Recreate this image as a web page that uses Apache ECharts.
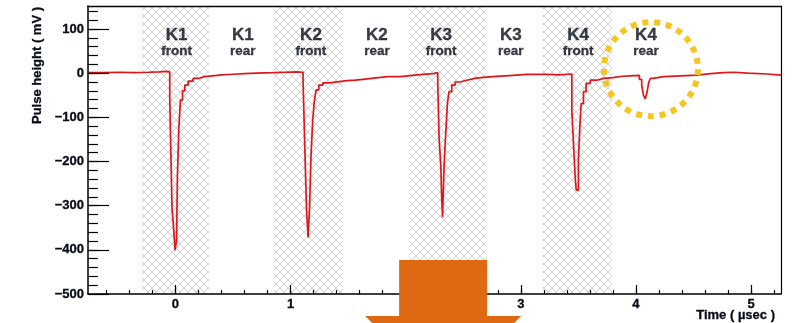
<!DOCTYPE html>
<html>
<head>
<meta charset="utf-8">
<script src="https://cdn.jsdelivr.net/npm/echarts@6/dist/echarts.min.js"></script>
<style>
  html, body { margin: 0; padding: 0; background: #ffffff; }
  #chart { width: 798px; height: 323px; }
</style>
</head>
<body>
<div id="chart"></div>
<script>
// Recorded pulse waveform: bin start time (µs) and pulse height (mV)
const pulseTime = [
  -0.76, -0.62, -0.48, -0.36, -0.24, -0.14, -0.08,
  -0.050, -0.041, -0.030, -0.015, -0.004, 0.009, 0.017, 0.029, 0.043, 0.061, 0.081, 0.110, 0.153,
  0.20, 0.25, 0.32, 0.40, 0.50, 0.60, 0.70, 0.85, 0.95, 1.05,
  1.108, 1.122, 1.138, 1.152, 1.165, 1.177, 1.192, 1.207, 1.222, 1.245, 1.28, 1.34,
  1.42, 1.49, 1.56, 1.63, 1.70, 1.76, 1.85, 1.95, 2.02, 2.08, 2.20, 2.24,
  2.278, 2.290, 2.305, 2.312, 2.320, 2.333, 2.346, 2.362, 2.376, 2.40,
  2.43, 2.47, 2.53, 2.60, 2.65, 2.76, 2.93, 3.05, 3.23, 3.33,
  3.443, 3.457, 3.472, 3.481, 3.500, 3.514, 3.524, 3.544, 3.567, 3.603,
  3.66, 3.72, 3.80, 3.88, 3.95,
  4.03, 4.05, 4.065, 4.08, 4.095, 4.11, 4.125, 4.15, 4.24, 4.39,
  4.53, 4.65, 4.76, 4.85, 4.97, 5.14, 5.26
];
const pulseHeight = [
  1, 2, 1, 2, 3, 4, 3,
  -54, -171, -306, -356, -401, -379, -231, -125, -61, -40, -27, -18, -12,
  -8, -6, -4, -2.5, -1, 0, 1, 2, 3, 2,
  -16, -156, -307, -372, -303, -190, -107, -61, -38, -27, -22, -19,
  -17, -16, -14, -12, -10, -8, -8, -6, -4.5, -1.5, -1, 1,
  -20, -148, -212, -280, -326, -212, -144, -69, -42, -27,
  -20, -16, -12, -10, -8, -5, -3, -3, -4, -2,
  -84, -159, -235, -265, -197, -114, -69, -42, -23, -16,
  -12, -10, -7, -6, -5,
  -14, -27, -50, -58, -45, -22, -12, -8, -6, -4.5,
  -1, 1, 2, 0, -2, -4.5, -5
];

// Counter windows (µs) and their labels
const windowStart = [-0.29, 0.855, 2.03, 3.19];
const windowEnd = [0.29, 1.455, 2.70, 3.79];
const labelTime = [0.009, 0.585, 1.177, 1.75, 2.307, 2.913, 3.498, 4.087];
const labelCounter = ['K1', 'K1', 'K2', 'K2', 'K3', 'K3', 'K4', 'K4'];
const labelSide = ['front', 'rear', 'front', 'rear', 'front', 'rear', 'front', 'rear'];

// Axis ranges and ticks
const timeMin = -0.76, timeMax = 5.26;
const heightMin = -500, heightMax = 152;
const timeMajorTicks = [0, 1, 2, 3, 4, 5];
const heightMajorTicks = [-500, -400, -300, -200, -100, 0, 100];

const timeMinorTicks = [];
for (let k = -3; k <= 26; k++) timeMinorTicks.push(+(k * 0.2).toFixed(1));
const heightMinorTicks = [];
for (let v = -480; v <= 140; v += 20) heightMinorTicks.push(v);

const FONT = '"Liberation Sans", Arial, Helvetica, sans-serif';
const INK = '#070b18';

function hatchPattern() {
  const c = document.createElement('canvas');
  c.width = 8; c.height = 8;
  const g = c.getContext('2d');
  g.strokeStyle = '#d2d2d2';
  g.lineWidth = 1;
  g.beginPath();
  g.moveTo(-1, -1); g.lineTo(9, 9);
  g.moveTo(9, -1); g.lineTo(-1, 9);
  g.stroke();
  return c;
}

const grid = { left: 88, right: 17, top: 6, bottom: 29 };

const chart = echarts.init(document.getElementById('chart'), null, { renderer: 'canvas' });

const fmtSigned = v => (v < 0 ? '\u2212' + Math.abs(v) : String(v));

const baseAxis = {
  type: 'value',
  splitLine: { show: false },
  z: 10
};
const frameLine = (w, show) => ({ show: show, onZero: false, lineStyle: { color: '#000', width: w } });
const boldText = { fontFamily: FONT, fontWeight: 'bold', color: INK, textBorderColor: INK, textBorderWidth: 0.3 };

chart.setOption({
  animation: false,
  backgroundColor: '#ffffff',
  grid: grid,
  xAxis: [
    Object.assign({}, baseAxis, {
      min: timeMin, max: timeMax, position: 'bottom',
      axisLine: frameLine(1.5, true),
      axisTick: { show: true, inside: true, length: 9, customValues: timeMajorTicks,
                  lineStyle: { color: '#000', width: 1.2 } },
      axisLabel: Object.assign({ show: true, customValues: timeMajorTicks, margin: 4, fontSize: 13 }, boldText)
    }),
    Object.assign({}, baseAxis, {
      min: timeMin, max: timeMax, position: 'bottom',
      axisLine: frameLine(1, false),
      axisTick: { show: true, inside: true, length: 4, customValues: timeMinorTicks,
                  lineStyle: { color: '#000', width: 1.2 } },
      axisLabel: { show: false }
    }),
    Object.assign({}, baseAxis, {
      min: timeMin, max: timeMax, position: 'top',
      axisLine: frameLine(1.3, true),
      axisTick: { show: false }, axisLabel: { show: false }
    })
  ],
  yAxis: [
    Object.assign({}, baseAxis, {
      min: heightMin, max: heightMax, position: 'left',
      axisLine: frameLine(1.5, true),
      axisTick: { show: true, inside: true, length: 21, customValues: heightMajorTicks,
                  lineStyle: { color: '#000', width: 1.2 } },
      axisLabel: Object.assign({ show: true, customValues: heightMajorTicks, margin: 4,
                                 formatter: fmtSigned, fontSize: 13 }, boldText)
    }),
    Object.assign({}, baseAxis, {
      min: heightMin, max: heightMax, position: 'left',
      axisLine: frameLine(1, false),
      axisTick: { show: true, inside: true, length: 10, customValues: heightMinorTicks,
                  lineStyle: { color: '#000', width: 1.2 } },
      axisLabel: { show: false }
    }),
    Object.assign({}, baseAxis, {
      min: heightMin, max: heightMax, position: 'right',
      axisLine: frameLine(1.2, true),
      axisTick: { show: false }, axisLabel: { show: false }
    })
  ],
  series: [
    {
      name: 'Pulse',
      type: 'line',
      xAxisIndex: 0, yAxisIndex: 0,
      step: 'end',
      showSymbol: false,
      clip: true,
      z: 5,
      lineStyle: { color: '#e0161b', width: 1.7 },
      data: pulseTime.map((t, i) => [t, pulseHeight[i]]),
      markArea: {
        silent: true,
        z: 1,
        itemStyle: { color: { image: hatchPattern(), repeat: 'repeat' } },
        data: windowStart.map((s, i) => [{ xAxis: s }, { xAxis: windowEnd[i] }])
      }
    },
    {
      name: 'Counters',
      type: 'scatter',
      xAxisIndex: 0, yAxisIndex: 0,
      symbolSize: 0,
      silent: true,
      z: 6,
      data: labelTime.map((t, i) => [t, 69, labelCounter[i], labelSide[i]]),
      label: {
        show: true,
        position: 'inside',
        align: 'center',
        verticalAlign: 'middle',
        color: INK,
        formatter: p => '{k|' + p.data[2] + '}\n{s|' + p.data[3] + '}',
        rich: {
          k: Object.assign({ fontSize: 17, lineHeight: 17, align: 'center' }, boldText),
          s: Object.assign({ fontSize: 13.5, lineHeight: 14, align: 'center' }, boldText)
        }
      }
    }
  ]
});

// Annotations: axis titles, highlight ring on the K4 rear pulse, arrow
const ring = chart.convertToPixel({ xAxisIndex: 0, yAxisIndex: 0 }, [4.13, 9]);
const arrowX = chart.convertToPixel({ xAxisIndex: 0 }, 2.325);
const arrowTop = 260, arrowHalf = 44, headHalf = 78, headY = 316;
const titleStyle = { font: 'bold 13px ' + FONT, fill: INK, stroke: INK, lineWidth: 0.3,
                     align: 'right', verticalAlign: 'middle', textAlign: 'right', textVerticalAlign: 'middle' };

chart.setOption({
  graphic: [
    {
      type: 'text', x: 37, y: 7, rotation: Math.PI / 2, z: 20,
      style: Object.assign({ text: 'Pulse height ( mV )' }, titleStyle)
    },
    {
      type: 'text', x: 775, y: 315, z: 20,
      style: Object.assign({ text: 'Time ( \u00b5sec )' }, titleStyle)
    },
    {
      type: 'circle', z: 30, silent: true,
      shape: { cx: ring[0], cy: ring[1], r: 47 },
      style: { fill: 'none', stroke: '#f3c623', lineWidth: 6, lineDash: [6, 5.81] }
    },
    {
      type: 'polygon', z: 40, silent: true,
      shape: {
        points: [
          [arrowX - arrowHalf, arrowTop], [arrowX + arrowHalf, arrowTop],
          [arrowX + arrowHalf, headY], [arrowX + headHalf, headY],
          [arrowX, headY + headHalf], [arrowX - headHalf, headY],
          [arrowX - arrowHalf, headY]
        ]
      },
      style: { fill: '#dd6a12', stroke: 'none' }
    }
  ]
});
</script>
</body>
</html>
